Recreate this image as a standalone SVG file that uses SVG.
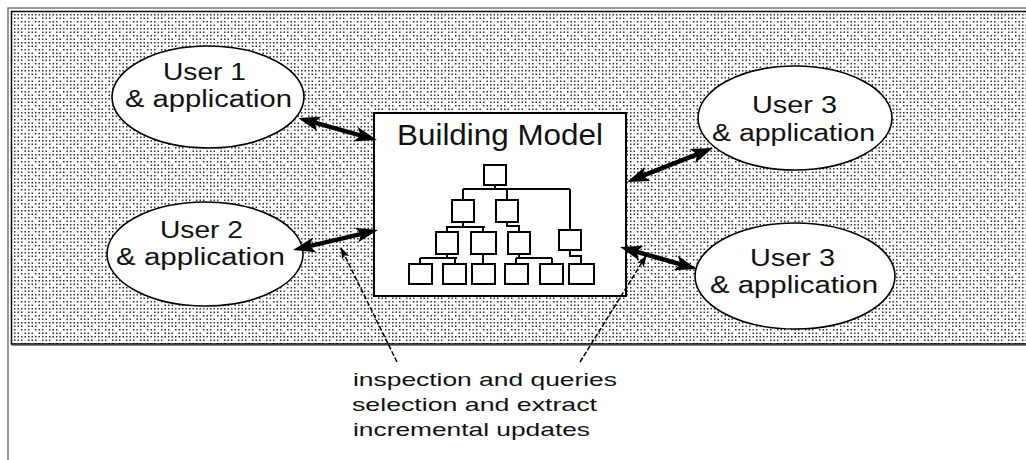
<svg xmlns="http://www.w3.org/2000/svg" width="1026" height="460" viewBox="0 0 1026 460">
  <defs>
    <!-- stippled halftone fill for the workspace band -->
    <pattern id="stipple" x="14" y="14" width="14" height="14" patternUnits="userSpaceOnUse">
      <g fill="#333">
        <rect x="0" y="0" width="1.5" height="1.5"/><rect x="3.5" y="0" width="1.5" height="1.5"/><rect x="7" y="0" width="1.5" height="1.5"/><rect x="10.5" y="0" width="1.5" height="1.5"/>
        <rect x="0" y="3.5" width="1.5" height="1.5"/><rect x="3.5" y="3.5" width="1.5" height="1.5"/><rect x="7" y="3.5" width="1.5" height="1.5"/>
        <rect x="0" y="7" width="1.5" height="1.5"/><rect x="7" y="7" width="1.5" height="1.5"/><rect x="10.5" y="7" width="1.5" height="1.5"/>
        <rect x="0" y="10.5" width="1.5" height="1.5"/><rect x="3.5" y="10.5" width="1.5" height="1.5"/><rect x="10.5" y="10.5" width="1.5" height="1.5"/>
      </g>
    </pattern>
    <marker id="bigHead" markerUnits="userSpaceOnUse" markerWidth="22" markerHeight="15" refX="13" refY="7.5" orient="auto-start-reverse">
      <path d="M0,0 L22,7.5 L0,15 L5,7.5 Z" fill="#000"/>
    </marker>
    <marker id="smallHead" markerUnits="userSpaceOnUse" markerWidth="12" markerHeight="8" refX="11" refY="4" orient="auto">
      <path d="M0,0 L12,4 L0,8 L3,4 Z" fill="#000"/>
    </marker>
  </defs>
  <style>
    .user { fill: #fff; stroke: #000; stroke-width: 1.6; }
    .ulabel { font-family: "Liberation Sans", Arial, sans-serif; font-size: 23px; fill: #111; }
    .title { font-family: "Liberation Sans", Arial, sans-serif; font-size: 30px; fill: #111; }
    .note { font-family: "Liberation Sans", Arial, sans-serif; font-size: 19px; fill: #111; }
    .tbox { fill: #fff; stroke: #000; stroke-width: 2; }
    .tline { fill: none; stroke: #000; stroke-width: 2; }
    .thick { stroke: #000; stroke-width: 4.5; fill: none; marker-start: url(#bigHead); marker-end: url(#bigHead); }
    .thin { stroke: #000; stroke-width: 1.5; fill: none; stroke-dasharray: 5 2; marker-end: url(#smallHead); }
  </style>

  <rect width="1026" height="460" fill="#fff"/>

  <!-- frame and stippled band -->
  <g id="frame">
    <rect x="11.5" y="11.5" width="1030" height="332.5" fill="url(#stipple)" stroke="#000" stroke-width="1.5"/>
    <path d="M8,460 V8 H1026" fill="none" stroke="#777" stroke-width="1.5"/>
    <path d="M11.5,345.5 H1026" fill="none" stroke="#888" stroke-width="1"/>
  </g>

  <!-- building model -->
  <g id="building-model">
    <rect x="374" y="113" width="252" height="183" fill="#fff" stroke="#000" stroke-width="2"/>
    <text class="title" x="397" y="145" textLength="206" lengthAdjust="spacingAndGlyphs">Building Model</text>
    <g id="tree">
      <path class="tline" d="M495,185 V189 M463,189 H570 M463,189 V200 M507,189 V200 M570,189 V230
        M463,222 V227 M446,227 H485 M447,227 V232 M483,227 V232
        M507,222 V226 H519 V232
        M447,254 V258 M420,258 H457 M420,258 V264 M455,258 V264
        M483,254 V264
        M519,254 V258 M516,258 H552 M516,258 V264 M552,258 V264
        M570,250 V256 H581 V264"/>
      <rect class="tbox" x="484" y="165" width="22" height="20"/>
      <rect class="tbox" x="452" y="200" width="22" height="22"/>
      <rect class="tbox" x="496" y="200" width="22" height="22"/>
      <rect class="tbox" x="559" y="230" width="22" height="20"/>
      <rect class="tbox" x="436" y="232" width="22" height="22"/>
      <rect class="tbox" x="471" y="232" width="25" height="22"/>
      <rect class="tbox" x="508" y="232" width="22" height="22"/>
      <rect class="tbox" x="409" y="264" width="23" height="20"/>
      <rect class="tbox" x="443" y="264" width="23" height="20"/>
      <rect class="tbox" x="472" y="264" width="23" height="20"/>
      <rect class="tbox" x="505" y="264" width="23" height="20"/>
      <rect class="tbox" x="540" y="264" width="23" height="20"/>
      <rect class="tbox" x="569" y="264" width="25" height="20"/>
    </g>
  </g>

  <!-- users -->
  <g id="user1">
    <ellipse class="user" cx="208" cy="97" rx="96" ry="51"/>
    <text class="ulabel" x="163" y="80" textLength="83" lengthAdjust="spacingAndGlyphs">User 1</text>
    <text class="ulabel" x="125" y="107" textLength="167" lengthAdjust="spacingAndGlyphs">&amp; application</text>
  </g>
  <g id="user2">
    <ellipse class="user" cx="205" cy="254" rx="98" ry="52"/>
    <text class="ulabel" x="160" y="238" textLength="83" lengthAdjust="spacingAndGlyphs">User 2</text>
    <text class="ulabel" x="116" y="265" textLength="169" lengthAdjust="spacingAndGlyphs">&amp; application</text>
  </g>
  <g id="user3-top">
    <ellipse class="user" cx="795" cy="118" rx="97" ry="52"/>
    <text class="ulabel" x="752" y="113" textLength="85" lengthAdjust="spacingAndGlyphs">User 3</text>
    <text class="ulabel" x="712" y="141" textLength="163" lengthAdjust="spacingAndGlyphs">&amp; application</text>
  </g>
  <g id="user3-bottom">
    <ellipse class="user" cx="795" cy="276" rx="100" ry="53"/>
    <text class="ulabel" x="750" y="266" textLength="85" lengthAdjust="spacingAndGlyphs">User 3</text>
    <text class="ulabel" x="710" y="293" textLength="168" lengthAdjust="spacingAndGlyphs">&amp; application</text>
  </g>

  <!-- data exchange arrows -->
  <g id="connectors">
    <line class="thick" x1="306.7" y1="120.4" x2="368.3" y2="137.6"/>
    <line class="thick" x1="301.8" y1="247.9" x2="369.2" y2="232.1"/>
    <line class="thick" x1="635.4" y1="178.7" x2="704.6" y2="151.3"/>
    <line class="thick" x1="628.7" y1="249.5" x2="688.3" y2="266.5"/>
    <line class="thin" x1="397" y1="362" x2="341" y2="248"/>
    <line class="thin" x1="580" y1="362" x2="646" y2="256"/>
  </g>

  <g id="operations">
    <text class="note" x="353" y="386" textLength="264" lengthAdjust="spacingAndGlyphs">inspection and queries</text>
    <text class="note" x="352" y="411" textLength="245" lengthAdjust="spacingAndGlyphs">selection and extract</text>
    <text class="note" x="353" y="436" textLength="237" lengthAdjust="spacingAndGlyphs">incremental updates</text>
  </g>
</svg>
